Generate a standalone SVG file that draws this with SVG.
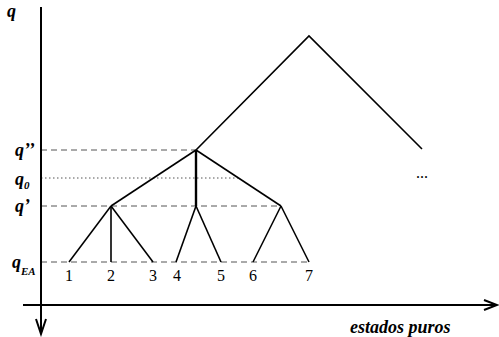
<svg xmlns="http://www.w3.org/2000/svg" width="499" height="337" viewBox="0 0 499 337">
<style>
.ax{stroke:#000;stroke-width:2;fill:none}
.br{stroke:#000;stroke-width:1.6;fill:none;stroke-linejoin:miter}
.dash{stroke:#555;stroke-width:1;stroke-dasharray:6,4;fill:none}
.dot{stroke:#555;stroke-width:1;stroke-dasharray:1.5,2.5;fill:none}
.lbl{font-family:"Liberation Serif",serif;font-weight:bold;font-style:italic;font-size:18px;fill:#000}
.sub{font-size:11px}
.num{font-family:"Liberation Serif",serif;font-size:16px;fill:#000;text-anchor:middle}
</style>
<rect width="499" height="337" fill="#fff"/>
<g id="guides">
<line class="dash" x1="41" y1="150" x2="196" y2="150"/>
<line class="dot" x1="41" y1="178" x2="238" y2="178"/>
<line class="dash" x1="41" y1="206" x2="281" y2="206"/>
<line class="dash" x1="41" y1="262" x2="309" y2="262"/>
</g>
<g id="axes">
<line class="ax" x1="41" y1="7" x2="41" y2="334"/>
<polyline class="ax" points="36,319 41,334 46,319"/>
<line class="ax" x1="23" y1="305" x2="497" y2="305"/>
<polyline class="ax" points="484,300 497,305 484,310"/>
</g>
<g id="connectors">
<polyline class="br" points="196,150 309,36 422,149"/>
<line class="br" x1="196" y1="150" x2="111" y2="206"/>
<line class="br" x1="196" y1="150" x2="281" y2="206"/>
<line class="br" x1="196" y1="150" x2="196" y2="206" style="stroke-width:2.4"/>
<line class="br" x1="111" y1="206" x2="69" y2="262"/>
<line class="br" x1="111" y1="206" x2="111" y2="262"/>
<line class="br" x1="111" y1="206" x2="153" y2="262"/>
<line class="br" x1="196" y1="206" x2="176" y2="262"/>
<line class="br" x1="196" y1="206" x2="221" y2="262"/>
<line class="br" x1="281" y1="206" x2="253" y2="262"/>
<line class="br" x1="281" y1="206" x2="309" y2="262"/>
</g>
<g id="leaves">
<text class="num" x="69" y="281">1</text>
<text class="num" x="111" y="281">2</text>
<text class="num" x="153" y="281">3</text>
<text class="num" x="177" y="281">4</text>
<text class="num" x="221" y="281">5</text>
<text class="num" x="253" y="281">6</text>
<text class="num" x="309" y="281">7</text>
</g>
<g id="labels">
<text class="lbl" x="7" y="17">q</text>
<text class="lbl" x="15" y="156">q’’</text>
<text class="lbl" x="15" y="185">q<tspan class="sub" dy="4">0</tspan></text>
<text class="lbl" x="15" y="212">q’</text>
<text class="lbl" x="12" y="268">q<tspan class="sub" dy="7">EA</tspan></text>
<text class="num" x="422" y="178">...</text>
<text class="lbl" x="350" y="333">estados puros</text>
</g>
</svg>
